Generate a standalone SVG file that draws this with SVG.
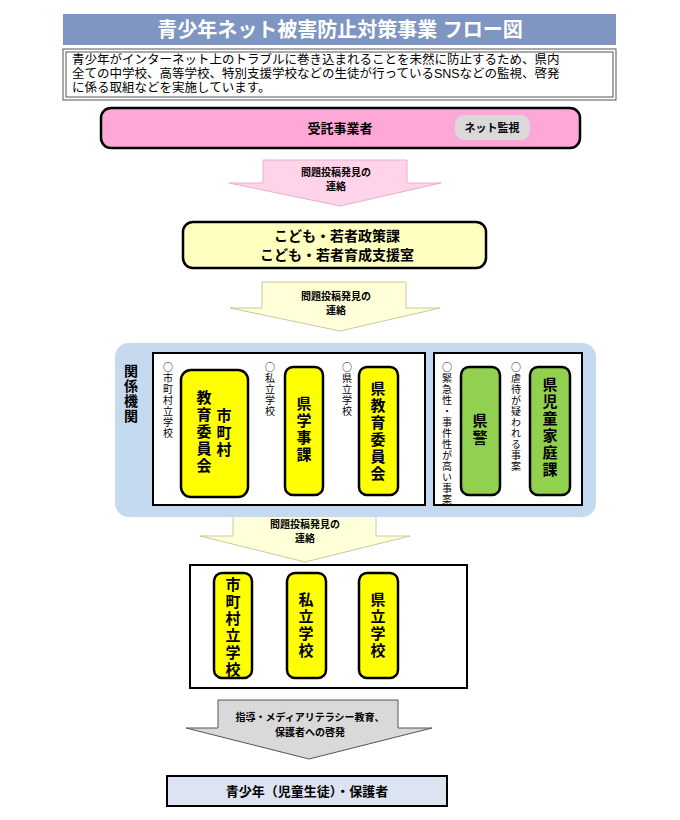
<svg xmlns="http://www.w3.org/2000/svg" width="680" height="820" viewBox="0 0 680 820">
<style>
text{font-family:"Liberation Sans","Noto Sans CJK JP",sans-serif;fill:#000}
.b{font-weight:bold}
.v{writing-mode:vertical-rl;text-orientation:upright;font-family:"Noto Sans CJK JP",sans-serif}
.y{fill:#ffff00;stroke:#000;stroke-width:2.5}
.g{fill:#92d050;stroke:#000;stroke-width:2.5}
.w{fill:#fff;stroke:#000;stroke-width:2}
.sm{font-size:10px;letter-spacing:1px}
.big{font-size:15px;font-weight:bold;letter-spacing:2px}
</style>
<rect width="680" height="820" fill="#fff"/>
<g id="title"><rect x="63" y="14" width="553" height="31" fill="#7f95c2"/><text x="340" y="37" text-anchor="middle" class="b" font-size="20" style="fill:#fff">青少年ネット被害防止対策事業 フロー図</text></g>
<g id="desc"><rect x="63" y="49" width="553" height="51" fill="#fff" stroke="#555" stroke-width="1"/><rect x="66" y="52" width="547" height="45" fill="none" stroke="#555" stroke-width="1"/>
<text font-size="12.5"><tspan x="72" y="64">青少年がインターネット上のトラブルに巻き込まれることを未然に防止するため、県内</tspan><tspan x="72" y="78">全ての中学校、高等学校、特別支援学校などの生徒が行っているSNSなどの監視、啓発</tspan><tspan x="72" y="92">に係る取組などを実施しています。</tspan></text></g>
<g id="contractor"><rect x="101" y="108" width="479" height="40" rx="10" fill="#ffa8d8" stroke="#000" stroke-width="2.5"/><text x="340" y="133" text-anchor="middle" class="b" font-size="13">受託事業者</text><rect x="455" y="115" width="75" height="25" rx="9" fill="#d9d9d9"/><text x="492" y="132" text-anchor="middle" class="b" font-size="11">ネット監視</text></g>
<g id="connectors">
<polygon points="263,160 407,160 407,183 441,183 340,206 229,183 263,183" fill="#ffd3ea" stroke="#e8b0c8"/>
<text x="336" y="176" text-anchor="middle" class="b" font-size="10">問題投稿発見の</text><text x="336" y="190" text-anchor="middle" class="b" font-size="10">連絡</text>
<polygon points="262,282 406,282 406,308 440,308 340,331 230,308 262,308" fill="#ffffd8" stroke="#c8c8a0"/>
<text x="336" y="300" text-anchor="middle" class="b" font-size="10">問題投稿発見の</text><text x="336" y="314" text-anchor="middle" class="b" font-size="10">連絡</text>
<polygon points="233,511 376,511 376,536 410,536 305,562 200,536 233,536" fill="#ffffd8" stroke="#c8c8a0"/>
<text x="305" y="528" text-anchor="middle" class="b" font-size="10">問題投稿発見の</text><text x="305" y="542" text-anchor="middle" class="b" font-size="10">連絡</text>
<polygon points="218,700 398,700 398,728 432,728 309,759 186,728 218,728" fill="#d9d9d9" stroke="#555"/>
<text x="310" y="721" text-anchor="middle" class="b" font-size="10">指導・メディアリテラシー教育、</text><text x="310" y="736" text-anchor="middle" class="b" font-size="10">保護者への啓発</text>
</g>
<g id="policy"><rect x="183" y="222" width="303" height="46" rx="10" fill="#ffffc0" stroke="#000" stroke-width="2.5"/><text x="337" y="241" text-anchor="middle" class="b" font-size="14">こども・若者政策課</text><text x="337" y="260" text-anchor="middle" class="b" font-size="14">こども・若者育成支援室</text></g>
<g id="agencies"><rect x="115" y="343" width="481" height="174" rx="14" fill="#c5daee"/>
<text x="131" y="364" class="v b" font-size="14" letter-spacing="1">関係機関</text>
<rect x="153" y="353" width="272" height="152" class="w"/><rect x="434" y="353" width="148" height="152" class="w"/>
<text x="168" y="362" class="v sm">○市町村立学校</text><text x="270" y="362" class="v sm">○私立学校</text><text x="347" y="362" class="v sm">○県立学校</text><text x="447" y="362" class="v sm">○緊急性・事件性が高い事案</text><text x="516" y="362" class="v sm">○虐待が疑われる事案</text>
</g>
<g id="muni-board"><rect x="181" y="370" width="67" height="127" rx="10" class="y"/><text x="224" y="408" class="v big">市町村</text><text x="204" y="390" class="v big">教育委員会</text></g>
<g id="gakuji"><rect x="285" y="367" width="38" height="128" rx="8" class="y"/><text x="304" y="396" class="v big">県学事課</text></g>
<g id="pref-board"><rect x="359" y="367" width="39" height="128" rx="8" class="y"/><text x="378" y="381" class="v big">県教育委員会</text></g>
<g id="police"><rect x="461" y="367" width="39" height="128" rx="8" class="g"/><text x="480" y="413" class="v big">県警</text></g>
<g id="child"><rect x="530" y="367" width="40" height="128" rx="8" class="g"/><text x="550" y="377" class="v big">県児童家庭課</text></g>
<g id="schools"><rect x="190" y="565" width="277" height="123" class="w"/>
<rect x="214" y="573" width="38" height="105" rx="8" class="y"/><text x="233" y="577" class="v big">市町村立学校</text>
<rect x="287" y="573" width="39" height="105" rx="8" class="y"/><text x="306" y="592" class="v big">私立学校</text>
<rect x="359" y="573" width="39" height="105" rx="8" class="y"/><text x="378" y="592" class="v big">県立学校</text></g>
<g id="youth"><rect x="167" y="776" width="280" height="30" fill="#dce4f2" stroke="#000" stroke-width="2"/><text x="307" y="796" text-anchor="middle" class="b" font-size="13">青少年（児童生徒）・保護者</text></g>
</svg>
